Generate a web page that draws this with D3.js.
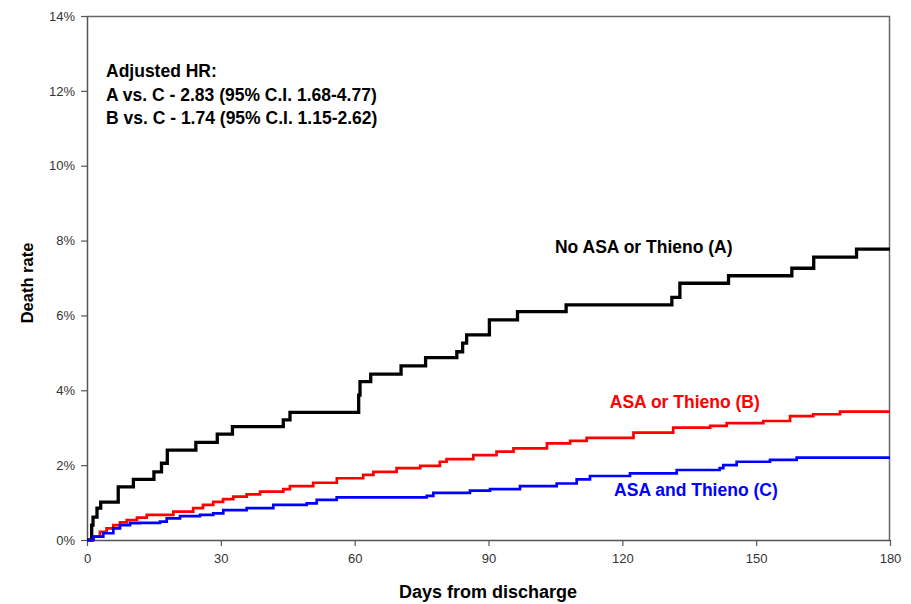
<!DOCTYPE html>
<html>
<head>
<meta charset="utf-8">
<script src="https://cdn.jsdelivr.net/npm/d3@7"></script>
<style>
  html, body { margin: 0; padding: 0; background: #fff; }
  svg { display: block; font-family: "Liberation Sans", Arial, sans-serif; }
</style>
</head>
<body>
<svg id="chart" width="911" height="604"></svg>
<script>
// Cumulative death rate (%) after discharge, step points: day -> rate
const daysA  = [0, 1.05, 1.35, 2.24, 3.07, 7.0, 10.4, 15.0, 16.7, 18.0, 24.4, 29.2, 32.6, 44.0, 45.5, 60.9, 61.2, 63.6, 70.4, 75.9, 82.9, 84.2, 85.1, 90.2, 96.5, 107.4, 131.1, 132.9, 143.8, 158.0, 162.9, 172.5, 180];
const rateA  = [0, 0.40, 0.61, 0.85, 1.01, 1.42, 1.62, 1.82, 2.05, 2.40, 2.61, 2.83, 3.03, 3.21, 3.41, 3.87, 4.23, 4.43, 4.65, 4.87, 5.03, 5.26, 5.48, 5.88, 6.10, 6.28, 6.48, 6.86, 7.06, 7.26, 7.56, 7.77, 7.77];

const daysB  = [0, 1.5, 2.9, 4.4, 5.9, 7.4, 8.9, 11.2, 13.4, 19.35, 23.8, 26.0, 28.3, 30.5, 32.8, 35.8, 38.8, 44.0, 45.5, 50.7, 56.0, 61.9, 64.2, 69.4, 74.7, 79.1, 80.6, 86.6, 91.8, 95.6, 103.1, 108.3, 112.0, 122.5, 131.4, 139.7, 143.4, 151.6, 157.6, 162.8, 168.8, 180];
const rateB  = [0, 0.09, 0.22, 0.31, 0.40, 0.47, 0.53, 0.60, 0.67, 0.76, 0.85, 0.94, 1.02, 1.09, 1.16, 1.22, 1.29, 1.36, 1.44, 1.53, 1.65, 1.74, 1.82, 1.92, 1.98, 2.09, 2.16, 2.27, 2.36, 2.45, 2.58, 2.65, 2.73, 2.87, 3.00, 3.05, 3.12, 3.18, 3.31, 3.36, 3.43, 3.43];

const daysC  = [0, 1.41, 3.65, 5.9, 7.4, 9.64, 11.88, 16.36, 17.87, 20.85, 25.33, 28.31, 30.55, 35.8, 41.76, 49.25, 51.49, 55.97, 76.15, 77.63, 85.85, 90.34, 97.06, 105.29, 109.77, 112.75, 121.72, 132.19, 141.83, 142.63, 145.63, 153.1, 159.08, 180];
const rateC  = [0, 0.09, 0.18, 0.31, 0.40, 0.45, 0.46, 0.49, 0.58, 0.64, 0.67, 0.71, 0.80, 0.85, 0.94, 0.98, 1.07, 1.14, 1.18, 1.26, 1.32, 1.36, 1.44, 1.51, 1.62, 1.71, 1.78, 1.87, 1.92, 2.00, 2.09, 2.14, 2.20, 2.20];

const seriesNames  = ["No ASA or Thieno (A)", "ASA or Thieno (B)", "ASA and Thieno (C)"];
const seriesColors = ["#000000", "#ff0000", "#0000ff"];

const xTicks = [0, 30, 60, 90, 120, 150, 180];
const yTicks = [0, 2, 4, 6, 8, 10, 12, 14];

const hrLines = [
  "Adjusted HR:",
  "A vs. C - 2.83 (95% C.I. 1.68-4.77)",
  "B vs. C - 1.74 (95% C.I. 1.15-2.62)"
];

const margin = { left: 87, top: 16, right: 21, bottom: 64 };
const W = 911, H = 604;
const iw = W - margin.left - margin.right;
const ih = H - margin.top - margin.bottom;

const svg = d3.select("#chart");
const g = svg.append("g").attr("transform", `translate(${margin.left},${margin.top})`);

const x = d3.scaleLinear().domain([0, 180]).range([0, iw]);
const y = d3.scaleLinear().domain([0, 14]).range([ih, 0]);

// plot area frame (top and right)
g.append("path")
  .attr("d", `M0,0.5H${iw - 0.5}V${ih}`)
  .attr("fill", "none")
  .attr("stroke", "#666")
  .attr("stroke-width", 1.5);

// axes
const xAxis = g.append("g").attr("transform", `translate(0,${ih})`)
  .call(d3.axisBottom(x).tickValues(xTicks).tickSize(6).tickPadding(8).tickSizeOuter(0));
const yAxis = g.append("g")
  .call(d3.axisLeft(y).tickValues(yTicks).tickFormat(d => d + "%").tickSize(6).tickPadding(6).tickSizeOuter(0));

[xAxis, yAxis].forEach(a => {
  a.select(".domain").attr("stroke", "#555").attr("stroke-width", 1.5);
  a.selectAll(".tick line").attr("stroke", "#555").attr("stroke-width", 1.2);
  a.selectAll(".tick text")
    .attr("fill", "#333")
    .style("font-size", "13px")
    .style("font-family", "'Liberation Sans', Arial, sans-serif");
});

// step curves
const line = d3.line()
  .x(d => x(d[0]))
  .y(d => y(d[1]))
  .curve(d3.curveStepAfter);

const series = [
  d3.zip(daysA, rateA),
  d3.zip(daysB, rateB),
  d3.zip(daysC, rateC)
];
const widths = [3.3, 2.7, 2.7];
series.forEach((s, i) => {
  g.append("path")
    .datum(s)
    .attr("fill", "none")
    .attr("stroke", seriesColors[i])
    .attr("stroke-width", widths[i])
    .attr("stroke-linejoin", "miter")
    .attr("d", line);
});

// series labels
const labelPos = [
  { day: 124.8, rate: 7.8 },
  { day: 134, rate: 3.65 },
  { day: 136.5, rate: 1.31 }
];
seriesNames.forEach((n, i) => {
  g.append("text")
    .attr("x", x(labelPos[i].day))
    .attr("y", y(labelPos[i].rate))
    .attr("text-anchor", "middle")
    .attr("dominant-baseline", "middle")
    .attr("fill", seriesColors[i])
    .style("font-size", "17.5px")
    .style("font-weight", "bold")
    .text(n);
});

// hazard ratio annotation
hrLines.forEach((t, i) => {
  svg.append("text")
    .attr("x", 106)
    .attr("y", 77 + i * 23.5)
    .attr("fill", "#000")
    .style("font-size", "17.5px")
    .style("font-weight", "bold")
    .text(t);
});

// axis titles
svg.append("text")
  .attr("x", 488)
  .attr("y", 598)
  .attr("text-anchor", "middle")
  .style("font-size", "18px")
  .style("font-weight", "bold")
  .text("Days from discharge");

svg.append("text")
  .attr("transform", `translate(33,${margin.top + ih / 2 + 5}) rotate(-90)`)
  .attr("text-anchor", "middle")
  .style("font-size", "16.5px")
  .style("font-weight", "bold")
  .text("Death rate");
</script>
</body>
</html>
